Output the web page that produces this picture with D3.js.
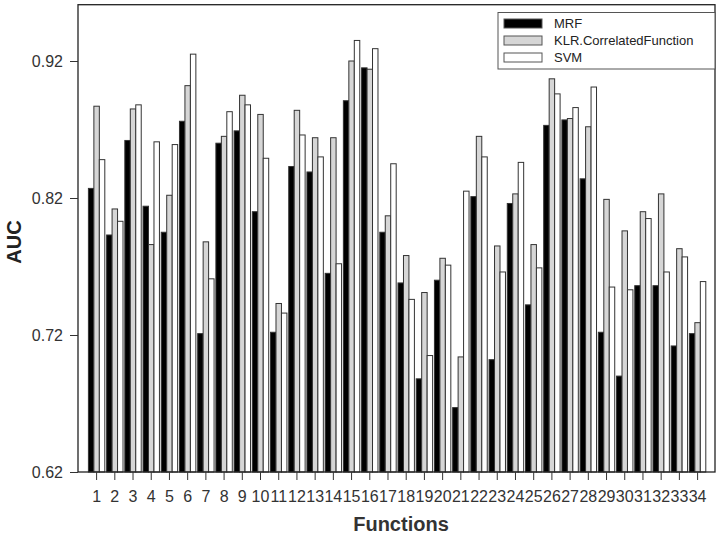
<!DOCTYPE html>
<html lang="en">
<head>
    <meta charset="UTF-8">
    <title>AUC by function</title>
    <script src="https://d3js.org/d3.v7.min.js"></script>
    <style>
        body { margin: 0; background: #fff; }
        svg { display: block; font-family: "Liberation Sans", Arial, sans-serif; }
    </style>
</head>
<body>
    <script>
        // data
        const functions = d3.range(1, 35).map(String);
        const series = ["MRF", "KLR.CorrelatedFunction", "SVM"];
        const mrf = [0.827, 0.793, 0.862, 0.814, 0.795, 0.876, 0.721, 0.860, 0.869, 0.810,
                     0.722, 0.843, 0.839, 0.765, 0.891, 0.915, 0.795, 0.758, 0.688, 0.760,
                     0.667, 0.821, 0.702, 0.816, 0.742, 0.873, 0.877, 0.834, 0.722, 0.690,
                     0.756, 0.756, 0.712, 0.721];
        const klr = [0.887, 0.812, 0.885, 0.786, 0.822, 0.902, 0.788, 0.865, 0.895, 0.881,
                     0.743, 0.884, 0.864, 0.864, 0.920, 0.914, 0.807, 0.778, 0.751, 0.776,
                     0.704, 0.865, 0.785, 0.823, 0.786, 0.907, 0.878, 0.872, 0.819, 0.796,
                     0.810, 0.823, 0.783, 0.729];
        const svm = [0.848, 0.803, 0.888, 0.861, 0.859, 0.925, 0.761, 0.883, 0.888, 0.849,
                     0.736, 0.866, 0.850, 0.772, 0.935, 0.929, 0.845, 0.746, 0.705, 0.771,
                     0.825, 0.850, 0.766, 0.846, 0.769, 0.896, 0.886, 0.901, 0.755, 0.753,
                     0.805, 0.766, 0.777, 0.759];
        const yTicks = [0.62, 0.72, 0.82, 0.92];

        const values = [mrf, klr, svm];
        const fills = ["#000000", "#d6d6d6", "#ffffff"];

        const width = 720, height = 536;
        const box = { left: 78, right: 715, top: 4.7, bottom: 472 };

        const svg = d3.select("body").append("svg")
            .attr("width", width)
            .attr("height", height);

        const y = d3.scaleLinear()
            .domain([0.62, 0.92])
            .range([box.bottom, 61]);

        const x = d3.scaleBand()
            .domain(functions)
            .range([87.5, 706.7])
            .paddingInner(0.1)
            .paddingOuter(0.05);

        const xs = d3.scaleBand()
            .domain(series)
            .range([0, x.bandwidth()]);

        // bars
        const groups = svg.append("g").selectAll("g")
            .data(functions)
            .enter().append("g")
            .attr("transform", d => `translate(${x(d)},0)`);

        groups.selectAll("rect")
            .data((d, i) => series.map((s, k) => ({ s: s, k: k, v: values[k][i] })))
            .enter().append("rect")
            .attr("x", d => xs(d.s))
            .attr("width", xs.bandwidth())
            .attr("y", d => y(d.v))
            .attr("height", d => y(0.62) - y(d.v))
            .attr("fill", d => fills[d.k])
            .attr("stroke", "#333")
            .attr("stroke-width", 1);

        // plot box
        svg.append("rect")
            .attr("x", box.left)
            .attr("y", box.top)
            .attr("width", box.right - box.left)
            .attr("height", box.bottom - box.top)
            .attr("fill", "none")
            .attr("stroke", "#222")
            .attr("stroke-width", 1.3);

        // y axis
        const yAxis = svg.append("g")
            .attr("transform", `translate(${box.left},0)`)
            .call(d3.axisLeft(y).tickValues(yTicks).tickFormat(d3.format(".2f")).tickSize(8).tickPadding(7));
        yAxis.select(".domain").remove();
        yAxis.selectAll("line").attr("stroke", "#333");
        yAxis.selectAll("text").attr("font-size", 16).attr("fill", "#333")
            .attr("font-family", "Liberation Sans, Arial, sans-serif");

        // x axis
        const xAxis = svg.append("g")
            .attr("transform", `translate(0,${box.bottom})`)
            .call(d3.axisBottom(x).tickSize(8).tickPadding(11));
        xAxis.select(".domain").remove();
        xAxis.selectAll("line").attr("stroke", "#333");
        xAxis.selectAll("text").attr("font-size", 16).attr("fill", "#333")
            .attr("font-family", "Liberation Sans, Arial, sans-serif");

        // axis titles
        svg.append("text")
            .attr("x", 401)
            .attr("y", 531)
            .attr("text-anchor", "middle")
            .attr("font-size", 20)
            .attr("font-weight", "bold")
            .attr("fill", "#333")
            .text("Functions");

        svg.append("text")
            .attr("transform", "translate(21,242) rotate(-90)")
            .attr("text-anchor", "middle")
            .attr("font-size", 20)
            .attr("font-weight", "bold")
            .attr("fill", "#222")
            .text("AUC");

        // legend
        const legend = svg.append("g");
        legend.append("rect")
            .attr("x", 498)
            .attr("y", 12.5)
            .attr("width", 217)
            .attr("height", 56.5)
            .attr("fill", "#fff")
            .attr("stroke", "#555");

        const items = legend.selectAll("g.item")
            .data(series)
            .enter().append("g")
            .attr("class", "item")
            .attr("transform", (d, i) => `translate(0,${23.5 + i * 17})`);

        items.append("rect")
            .attr("x", 504)
            .attr("y", -4.5)
            .attr("width", 38)
            .attr("height", 9)
            .attr("fill", (d, i) => fills[i])
            .attr("stroke", "#555");

        items.append("text")
            .attr("x", 554)
            .attr("y", 4.5)
            .attr("font-size", 13)
            .attr("fill", "#222")
            .text(d => d);
    </script>
</body>
</html>
